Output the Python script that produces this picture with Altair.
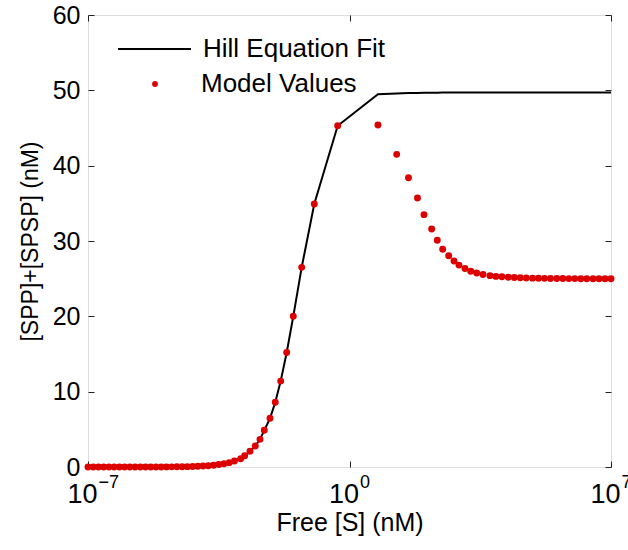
import altair as alt
import pandas as pd

# log10 of free [S] (nM) for each model point
log_s = [
    -7.00, -6.86, -6.72, -6.58, -6.44, -6.30, -6.16, -6.02, -5.88, -5.74,
    -5.60, -5.46, -5.32, -5.18, -5.04, -4.90, -4.76, -4.62, -4.48, -4.34,
    -4.20, -4.06, -3.92, -3.78, -3.64, -3.50, -3.36, -3.22, -3.08,
    -2.913, -2.806, -2.664, -2.522, -2.396, -2.281, -2.128, -1.987, -1.842,
    -1.681, -1.505, -1.280, -0.943, -0.316,
    0.762, 1.263, 1.579, 1.820, 1.994, 2.200, 2.350, 2.494, 2.655, 2.797,
    2.930, 3.091, 3.244, 3.404, 3.573, 3.760,
    3.92, 4.08, 4.25, 4.41, 4.57, 4.73, 4.90, 5.06, 5.22, 5.38,
    5.55, 5.71, 5.87, 6.03, 6.19, 6.35, 6.52, 6.68, 6.84, 7.00,
]

# [SPP]+[SPSP] (nM), model values (red dots)
model_y = [
    0.0, 0.0, 0.0, 0.0, 0.0, 0.0, 0.001, 0.001, 0.002, 0.002,
    0.003, 0.004, 0.005, 0.007, 0.010, 0.014, 0.019, 0.026, 0.036, 0.049,
    0.067, 0.09, 0.125, 0.17, 0.235, 0.32, 0.43, 0.58, 0.8,
    1.1, 1.5, 2.08, 2.79, 3.67, 4.87, 6.46, 8.6, 11.4,
    15.2, 20.0, 26.5, 34.9, 45.3,
    45.4, 41.5, 38.4, 35.7, 33.5, 31.6, 30.1, 28.9, 28.05, 27.35,
    26.8, 26.35, 25.98, 25.75, 25.55, 25.4,
    25.3, 25.25, 25.2, 25.16, 25.12, 25.09, 25.07, 25.05, 25.04, 25.03,
    25.02, 25.02, 25.01, 25.01, 25.0, 25.0, 25.0, 25.0, 25.0, 25.0,
]

# Hill equation fit evaluated at the same free [S] values (black line)
hill_y = [
    0.0, 0.0, 0.0, 0.0, 0.0, 0.0, 0.001, 0.001, 0.002, 0.002,
    0.003, 0.004, 0.005, 0.007, 0.010, 0.014, 0.019, 0.026, 0.036, 0.049,
    0.067, 0.09, 0.125, 0.17, 0.235, 0.32, 0.43, 0.58, 0.8,
    1.1, 1.5, 2.08, 2.79, 3.67, 4.87, 6.46, 8.6, 11.4,
    15.2, 20.0, 26.5, 34.9, 45.3,
    49.47, 49.58, 49.63, 49.66, 49.68, 49.69, 49.69, 49.70, 49.70, 49.70,
    49.70, 49.70, 49.70, 49.70, 49.70, 49.70,
    49.70, 49.70, 49.70, 49.70, 49.70, 49.70, 49.70, 49.70, 49.70, 49.70,
    49.70, 49.70, 49.70, 49.70, 49.70, 49.70, 49.70, 49.70, 49.70, 49.70,
]

x_ticks = [1e-7, 1.0, 1e7]
x_tick_base = "10"
x_tick_exponents = ["−7", "0", "7"]
y_ticks = [0, 10, 20, 30, 40, 50, 60]
line_name = "Hill Equation Fit"
point_name = "Model Values"

df = pd.DataFrame({
    "S": [10 ** v for v in log_s],
    "model": model_y,
    "hill": hill_y,
    "line_series": line_name,
    "pt_series": point_name,
})

FONT = "Liberation Sans"
RED = "#dd0000"
TICK = 6

xscale = alt.Scale(type="log", domain=[1e-7, 1e7], nice=False)
yscale = alt.Scale(domain=[0, 60], nice=False)

exp_expr = ("datum.value < 1e-3 ? '%s' : (datum.value > 1e3 ? '%s' : '%s')"
            % (x_tick_exponents[0], x_tick_exponents[2], x_tick_exponents[1]))

common_axis = dict(
    domain=False, grid=False, tickSize=TICK, offset=-TICK,
    tickColor="#222222", tickWidth=1,
    labelFont=FONT, labelColor="black",
    titleFont=FONT, titleFontWeight="normal", titleColor="black",
)

line = alt.Chart(df).mark_line(strokeWidth=2, clip=True).encode(
    x=alt.X("S:Q", scale=xscale, axis=alt.Axis(
        orient="bottom", values=x_ticks, labelExpr="'%s'" % x_tick_base,
        labelFlush=False, labelAlign="right", labelOffset=9, labelFontSize=27,
        labelPadding=14, ticks=True,
        title="Free [S] (nM)", titleFontSize=25, titlePadding=3, **common_axis)),
    y=alt.Y("hill:Q", scale=yscale, axis=alt.Axis(
        orient="left", values=y_ticks, labelPadding=8, labelFontSize=25, ticks=True,
        title="[SPP]+[SPSP] (nM)", titleFontSize=23, titlePadding=10, **common_axis)),
    stroke=alt.Stroke("line_series:N",
        scale=alt.Scale(domain=[line_name], range=["black"]),
        legend=alt.Legend(title=None, orient="none", legendX=29, legendY=-3.5,
                          symbolType="stroke", symbolSize=5329, symbolStrokeWidth=2,
                          labelOffset=11, labelFont=FONT, labelFontSize=26,
                          labelLimit=400, labelColor="black", padding=0)),
)

points = alt.Chart(df).mark_circle(size=48, opacity=1).encode(
    x=alt.X("S:Q", scale=xscale, axis=alt.Axis(
        orient="top", values=x_ticks, labels=False, title=None, ticks=True, **common_axis)),
    y=alt.Y("model:Q", scale=yscale, axis=alt.Axis(
        orient="right", values=y_ticks, labels=False, title=None, ticks=True, **common_axis)),
    fill=alt.Fill("pt_series:N",
        scale=alt.Scale(domain=[point_name], range=[RED]),
        legend=alt.Legend(title=None, orient="none", legendX=54, legendY=56,
                          symbolType="circle", symbolSize=34, symbolStrokeWidth=0,
                          labelOffset=33, labelFont=FONT, labelFontSize=26,
                          labelLimit=400, labelColor="black", padding=0)),
)

# exponent part of the x tick labels (10^-7, 10^0, 10^7)
exponents = alt.Chart(df).mark_point(opacity=0).encode(
    x=alt.X("S:Q", scale=xscale, axis=alt.Axis(
        orient="bottom", values=x_ticks, labelExpr=exp_expr, labelFlush=False,
        labelAlign="left", labelOffset=10, labelFontSize=18, labelPadding=12,
        ticks=False, title=None, **common_axis)),
    y=alt.Y("model:Q", scale=yscale, axis=None),
)

chart = alt.layer(line, points, exponents).resolve_axis(
    x="independent", y="independent"
).resolve_legend(stroke="independent", fill="independent").properties(
    width=523, height=452,
    autosize=alt.AutoSizeParams(type="none"),
    padding={"left": 88, "top": 15, "right": 17, "bottom": 83},
).configure_view(stroke="#222222", strokeWidth=1).configure(background="white")

chart.save("out.html", embed_options={"renderer": "svg", "actions": False})
